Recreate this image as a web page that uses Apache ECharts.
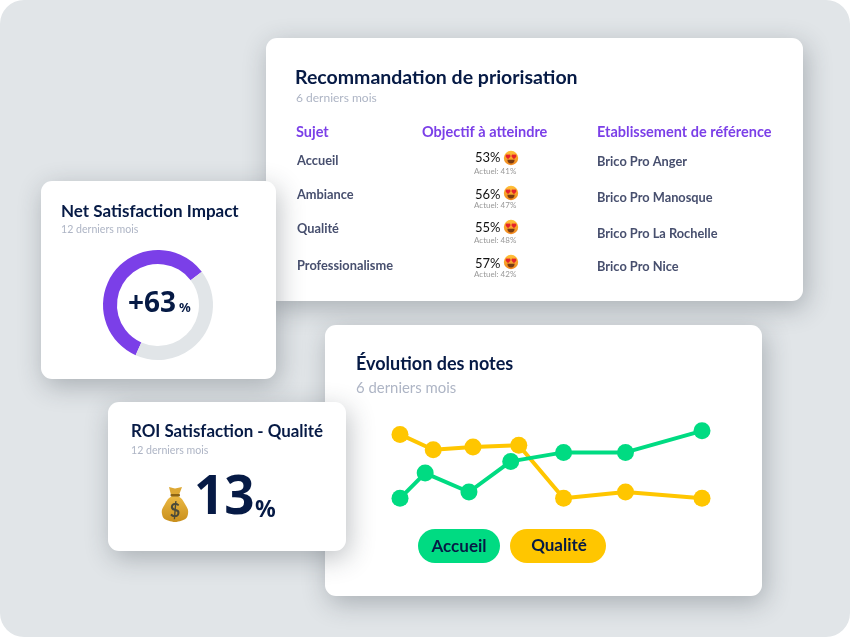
<!DOCTYPE html>
<html lang="fr">
<head>
    <meta charset="utf-8"/>
    <title>Tableau de bord satisfaction</title>
    <script src="https://cdn.jsdelivr.net/npm/echarts@6/dist/echarts.min.js"></script>
    <style>
        html, body { margin: 0; padding: 0; background: #fff; }
        #main { width: 850px; height: 637px; }
    </style>
</head>
<body>
<div id="main"></div>
<script>
    // table
    var sujets = ['Accueil', 'Ambiance', 'Qualité', 'Professionalisme'];
    var objectifs = [53, 56, 55, 57];
    var actuels = [41, 47, 48, 42];
    var etablissements = ['Brico Pro Anger', 'Brico Pro Manosque', 'Brico Pro La Rochelle', 'Brico Pro Nice'];

    // donut
    var donutValues = [58, 42];

    // lines : position sur 6 mois, note sur 100
    var accueilX = [0, 0.5, 1.37, 2.2, 3.25, 4.48, 6];
    var accueilY = [13, 41, 20, 54, 64, 64, 88];
    var qualiteX = [0, 0.66, 1.45, 2.36, 3.25, 4.48, 6];
    var qualiteY = [84, 67, 70, 72, 13, 20, 13];

    var FONT = 'Lato, sans-serif';
    var NUM_FONT = '"Noto Sans", sans-serif';
    var NAVY = '#061A45';
    var GREY = '#AEB5C5';
    var PURPLE = '#7B3FE8';
    var SLATE = '#474F6E';
    var GREEN = '#00DB82';
    var YELLOW = '#FFC600';

    function card(x, y, w, h, z) {
        return {
            type: 'rect', z: z, shape: {x: x, y: y, width: w, height: h, r: 11},
            style: {fill: '#fff', shadowBlur: 26, shadowColor: 'rgba(40,50,60,0.30)', shadowOffsetY: 7, shadowOffsetX: 3}
        };
    }

    function txt(s, x, y, size, color, weight, align, z, family) {
        return {
            type: 'text', z: z || 10, x: x, y: family ? y : y + 1, // Lato sits a pixel high
            style: {
                text: s, fill: color, font: (weight || 400) + ' ' + size + 'px ' + (family || FONT),
                textAlign: align || 'left', textVerticalAlign: 'middle'
            }
        };
    }

    // 😍 dessiné, pas de police emoji installée
    function smiley(x, y) {
        var red = {fill: '#E4232B'};
        return {
            type: 'group', x: x, y: y, z: 10, children: [
                {
                    type: 'circle', z: 10, shape: {cx: 0, cy: 0, r: 7.2},
                    style: {fill: {type: 'linear', x: 0, y: 0, x2: 0, y2: 1, colorStops: [{offset: 0, color: '#FFC23A'}, {offset: 1, color: '#F0851C'}]}}
                },
                {type: 'circle', z: 11, shape: {cx: -4, cy: -2, r: 1.4}, style: red},
                {type: 'circle', z: 11, shape: {cx: -1.9, cy: -2, r: 1.4}, style: red},
                {type: 'polygon', z: 11, shape: {points: [[-5.3, -1.4], [-0.6, -1.4], [-3, 1.3]]}, style: red},
                {type: 'circle', z: 11, shape: {cx: 1.9, cy: -2, r: 1.4}, style: red},
                {type: 'circle', z: 11, shape: {cx: 4, cy: -2, r: 1.4}, style: red},
                {type: 'polygon', z: 11, shape: {points: [[0.6, -1.4], [5.3, -1.4], [3, 1.3]]}, style: red},
                {type: 'sector', z: 11, shape: {cx: 0, cy: 1.8, r: 3.6, startAngle: 0, endAngle: Math.PI}, style: {fill: '#7A3B12'}}
            ]
        };
    }

    // 💰 dessiné aussi
    function bag(x, y) {
        return {
            type: 'group', x: x, y: y, z: 10, children: [
                {
                    type: 'polygon', z: 10,
                    shape: {smooth: 0.5, points: [[10, 9], [16, 9], [23, 17], [26, 27], [20, 33.5], [6, 33.5], [0, 27], [3, 17]]},
                    style: {fill: {type: 'linear', x: 0, y: 0, x2: 0, y2: 1, colorStops: [{offset: 0, color: '#EDBB45'}, {offset: 1, color: '#C98F1C'}]}}
                },
                {type: 'polygon', z: 10, shape: {points: [[7, 0], [13, 1.5], [20, 0], [17, 8], [9, 8]]}, style: {fill: '#DDA834'}},
                {type: 'rect', z: 11, shape: {x: 8.5, y: 7, width: 9.5, height: 2.6, r: 1}, style: {fill: '#8C6414'}},
                txt('$', 13, 23, 18, '#4A4A3A', 700, 'center', 11)
            ]
        };
    }

    var elements = [
        {type: 'rect', z: 0, shape: {x: 0, y: 0, width: 850, height: 637, r: 24}, style: {fill: '#E1E5E8'}},
        card(266, 38, 537, 263, 1),
        card(325, 325, 437, 271, 1),
        card(41, 181, 235, 198, 2),
        card(108, 402, 238, 149, 3),

        txt('Recommandation de priorisation', 295, 77, 19.5, NAVY, 700),
        txt('6 derniers mois', 296, 97, 12, GREY),
        txt('Sujet', 296, 131, 14.5, PURPLE, 700),
        txt('Objectif à atteindre', 422, 131, 14.5, PURPLE, 700),
        txt('Etablissement de référence', 597, 131, 14.5, PURPLE, 700),

        txt('Net Satisfaction Impact', 61, 211, 17, NAVY, 700),
        txt('12 derniers mois', 61, 229, 10.6, GREY),
        txt('+' + 63, 128, 304, 28, NAVY, 700, 'left', 10, NUM_FONT),
        txt('%', 179, 308, 13, NAVY, 700, 'left', 10, NUM_FONT),

        txt('ROI Satisfaction - Qualité', 131, 431, 16.9, NAVY, 700),
        txt('12 derniers mois', 131, 450, 10.6, GREY),
        bag(162, 487),
        txt('13', 194, 499, 53, NAVY, 700, 'left', 10, NUM_FONT),
        txt('%', 255, 510, 23, NAVY, 700, 'left', 10, NUM_FONT),

        txt('Évolution des notes', 356, 363, 18, NAVY, 700),
        txt('6 derniers mois', 356, 387, 14.9, GREY),
        {type: 'rect', z: 5, shape: {x: 418, y: 529, width: 82, height: 34, r: 17}, style: {fill: GREEN}},
        {type: 'rect', z: 5, shape: {x: 510, y: 529, width: 96, height: 34, r: 17}, style: {fill: YELLOW}},
        txt('Accueil', 459, 546, 17, NAVY, 700, 'center'),
        txt('Qualité', 559, 545, 17, NAVY, 700, 'center')
    ];

    var rowSujetY = [160, 194, 228, 265];
    var rowObjY = [158, 195, 228, 264];
    var rowEmojiY = [158, 193, 227, 262];
    var rowActuelY = [171, 205, 240, 274];
    var rowEtabY = [161, 197, 233, 266];
    sujets.forEach(function (s, i) {
        elements.push(txt(s, 297, rowSujetY[i], 12.8, SLATE, 700));
        elements.push(txt(objectifs[i] + '%', 475, rowObjY[i] - 1, 13, '#111', 400));
        elements.push(smiley(511, rowEmojiY[i]));
        elements.push(txt('Actuel: ' + actuels[i] + '%', 474, rowActuelY[i] - 1, 8, '#999', 400));
        elements.push(txt(etablissements[i], 597, rowEtabY[i], 12.8, SLATE, 700));
    });

    function pairs(xs, ys) {
        return xs.map(function (x, i) { return [x, ys[i]]; });
    }

    function lineSeries(name, xs, ys, color) {
        return {
            name: name, type: 'line', data: pairs(xs, ys), z: 6,
            symbol: 'circle', symbolSize: 17, clip: false, animation: false,
            lineStyle: {color: color, width: 4}, itemStyle: {color: color}
        };
    }

    var myChart = echarts.init(document.getElementById('main'), null, {renderer: 'canvas'});
    myChart.setOption({
        animation: false,
        graphic: {elements: elements},
        grid: {left: 400, top: 420, width: 302, height: 90},
        xAxis: {type: 'value', min: 0, max: 6, show: false},
        yAxis: {type: 'value', min: 0, max: 100, show: false},
        series: [
            lineSeries('Qualité', qualiteX, qualiteY, YELLOW),
            lineSeries('Accueil', accueilX, accueilY, GREEN),
            {
                type: 'pie', z: 6, center: [158, 305], radius: [41, 55], startAngle: 246,
                silent: true, animation: false, label: {show: false}, labelLine: {show: false},
                data: [
                    {value: donutValues[0], itemStyle: {color: PURPLE}},
                    {value: donutValues[1], itemStyle: {color: '#E1E5E8'}}
                ]
            }
        ]
    });
</script>
</body>
</html>
